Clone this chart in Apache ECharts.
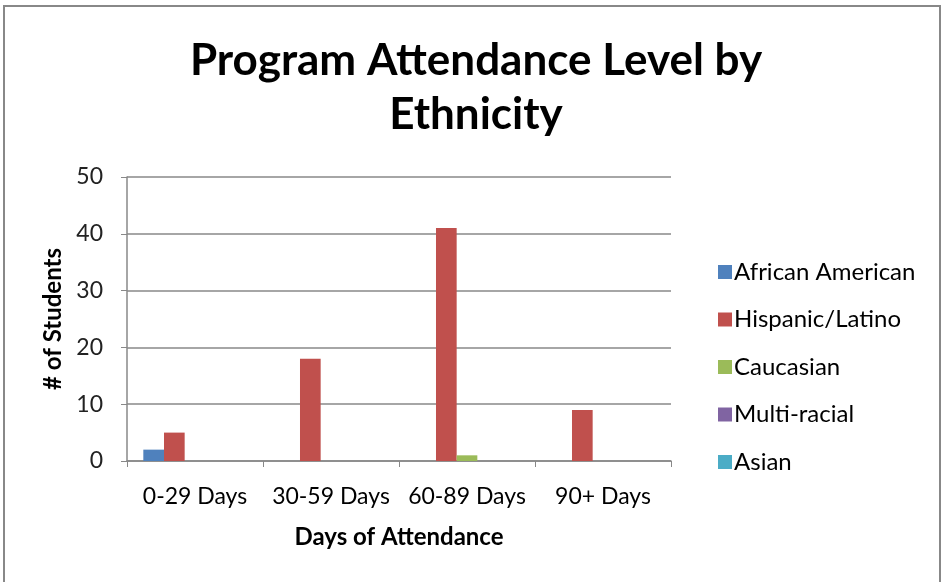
<!DOCTYPE html>
<html lang="en">
<head>
    <meta charset="UTF-8">
    <title>Program Attendance Level by Ethnicity</title>
    <script src="https://cdn.jsdelivr.net/npm/echarts@6/dist/echarts.min.js"></script>
    <style>
        html, body { margin: 0; padding: 0; background: #fff; }
    </style>
</head>
<body>
    <div id="main" style="width: 942px;height:582px;"></div>
    <script type="text/javascript">
        // data
        var categories = ['0-29 Days', '30-59 Days', '60-89 Days', '90+ Days'];
        var seriesNames = ['African American', 'Hispanic/Latino', 'Caucasian', 'Multi-racial', 'Asian'];
        var africanAmerican = [2, 0, 0, 0];
        var hispanicLatino = [5, 18, 41, 9];
        var caucasian = [0, 0, 1, 0];
        var multiRacial = [0, 0, 0, 0];
        var asian = [0, 0, 0, 0];
        var yTicks = [0, 10, 20, 30, 40, 50];

        var values = [africanAmerican, hispanicLatino, caucasian, multiRacial, asian];
        // office 2007 palette
        var colors = ['#4F81BD', '#C0504D', '#9BBB59', '#8064A2', '#4BACC6'];
        var font = 'Lato';

        var myChart = echarts.init(document.getElementById('main'));

        var series = seriesNames.map(function (name, i) {
            return {
                name: name,
                type: 'bar',
                data: values[i],
                barGap: 0,
                barCategoryGap: '24%',
                itemStyle: { color: colors[i] }
            };
        });

        var option = {
            backgroundColor: '#fff',
            animation: false,
            color: colors,
            title: {
                text: 'Program Attendance Level by\nEthnicity',
                left: 471,
                textAlign: 'center',
                top: 29,
                textStyle: {
                    fontFamily: font,
                    fontWeight: 'bold',
                    fontSize: 44,
                    lineHeight: 54,
                    color: '#000'
                }
            },
            legend: {
                orient: 'vertical',
                left: 713,
                top: 255,
                itemWidth: 14,
                itemHeight: 14,
                itemGap: 23.5,
                icon: 'rect',
                data: seriesNames,
                textStyle: { fontFamily: font, fontSize: 24, color: '#000', padding: [0, 0, 0, -3] }
            },
            grid: {
                left: 127,
                right: 271,
                top: 177,
                height: 284,
                containLabel: false
            },
            xAxis: {
                type: 'category',
                data: categories,
                name: 'Days of Attendance',
                nameLocation: 'middle',
                nameGap: 64,
                nameTextStyle: { fontFamily: font, fontWeight: 'bold', fontSize: 24, color: '#000' },
                axisLine: { lineStyle: { color: '#888', width: 1.5 } },
                axisTick: { show: true, length: 6, lineStyle: { color: '#888' } },
                axisLabel: { interval: 0, fontFamily: font, fontSize: 23, color: '#000', margin: 24 }
            },
            yAxis: {
                type: 'value',
                min: yTicks[0],
                max: yTicks[yTicks.length - 1],
                interval: 10,
                name: '# of Students',
                nameLocation: 'middle',
                nameGap: 60,
                nameTextStyle: { fontFamily: font, fontWeight: 'bold', fontSize: 24, color: '#000' },
                axisLine: { show: true, lineStyle: { color: '#888', width: 1.5 } },
                axisTick: { show: true, length: 6, lineStyle: { color: '#888' } },
                axisLabel: { fontFamily: font, fontSize: 23, color: '#222', margin: 24 },
                splitLine: { show: true, lineStyle: { color: '#888', width: 1.5 } }
            },
            graphic: [{
                type: 'rect',
                shape: { x: 4, y: 6, width: 936, height: 590 },
                style: { fill: null, stroke: '#888', lineWidth: 2 },
                silent: true
            }],
            series: series
        };

        myChart.setOption(option);
    </script>
</body>
</html>
